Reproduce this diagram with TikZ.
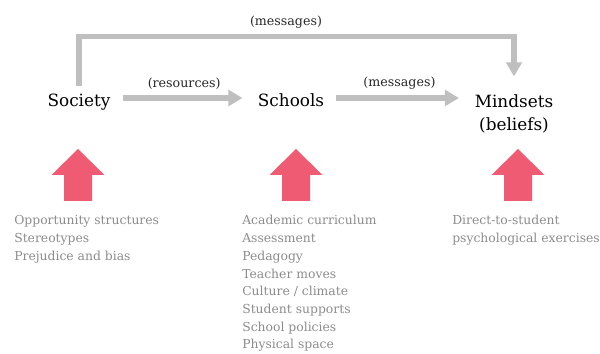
\documentclass[tikz,border=0pt]{standalone}
\usepackage{fontspec}
\setmainfont{DejaVu Serif}
\usepackage{tikz}
\usetikzlibrary{arrows.meta,positioning}
\definecolor{flowGray}{RGB}{191,191,191}
\definecolor{liftPink}{RGB}{239,91,115}
\definecolor{listGray}{RGB}{140,140,140}
\definecolor{labelDark}{RGB}{40,40,40}

\tikzset{
  stagefont/.style={text=black, font=\fontsize{12}{17}\selectfont, inner sep=0pt},
  mainlbl/.style={stagefont, text height=16pt, text depth=3.2pt},
  flowlbl/.style={text=labelDark, font=\fontsize{9}{10}\selectfont, inner sep=0pt},
  listtxt/.style={text=listGray, font=\fontsize{8.8}{12.6}\selectfont, align=left, inner sep=0pt},
  flow/.style={flowGray, line width=3.7pt, -{Triangle[length=10pt,width=11pt]}},
}

\begin{document}
\begin{tikzpicture}[x=0.025cm, y=-0.025cm]
\useasboundingbox (0,0) rectangle (600,354);

% the three stages
\node[mainlbl, anchor=base] (society) at (79,107) {Society};
\node[mainlbl, anchor=base] (schools) at (291,107) {Schools};
\node[stagefont, anchor=base, align=center] (mindsets) at (514,131) {Mindsets\\(beliefs)};
\coordinate (upper) at (0,36.5);

% flows between them
\draw[flow, shorten <=8.5pt, shorten >=10.7pt] (society.east) -- node[flowlbl, above=4.5pt, name=resources] {(resources)} (schools.west);
\draw[flow, shorten <=8.5pt, shorten >=11pt] (schools.east) -- node[flowlbl, above=4.5pt, name=schoolmsg] {(messages)} (schools.east -| mindsets.west);
\draw[flow, shorten <=-1.5pt, shorten >=12.5pt] (society.north) |- (upper -| mindsets.north) -- (mindsets.north);
\node[flowlbl] (societymsg) at (286,22) {(messages)};

% lifting arrows
\foreach \x in {78,296,518}
  \fill[liftPink] (\x,149) -- (\x+26.5,175) -- (\x+14,175) -- (\x+14,201)
    -- (\x-14,201) -- (\x-14,175) -- (\x-26.5,175) -- cycle;

% what each stage contains (placed by the last line's baseline)
\node[listtxt, anchor=base west] (societylist) at (14,260.4) {Opportunity structures\\Stereotypes\\Prejudice and bias};
\node[listtxt, anchor=base west] (schoollist) at (242,349) {Academic curriculum\\Assessment\\Pedagogy\\Teacher moves\\Culture / climate\\Student supports\\School policies\\Physical space};
\node[listtxt, anchor=base west] (mindsetlist) at (452,242.7) {Direct-to-student\\psychological exercises};
\end{tikzpicture}
\end{document}
